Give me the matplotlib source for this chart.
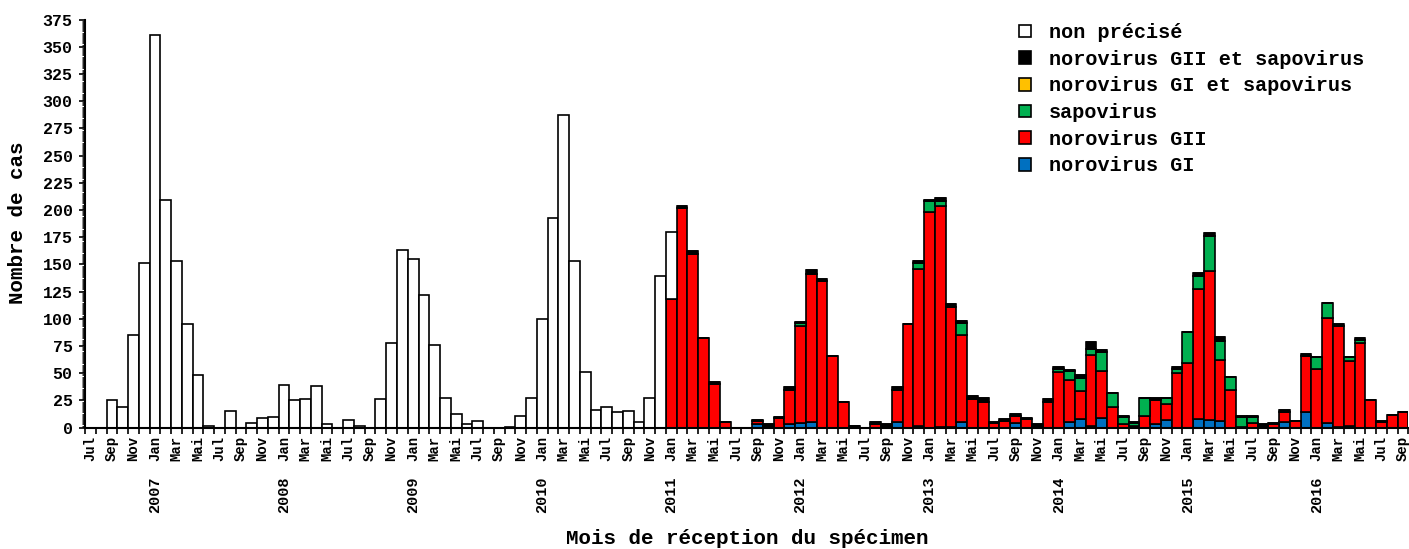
import matplotlib
matplotlib.use('Agg')
import matplotlib.pyplot as plt
from matplotlib.ticker import MultipleLocator

# Monthly counts, Jul 2006 -> Sep 2016 (one row per year)
non_precise = [0, 0, 25, 19, 85, 151,
               361, 209, 153, 95, 48, 2, 0, 15, 0, 4, 9, 10,
               39, 25, 26, 38, 3, 0, 7, 2, 0, 26, 78, 163,
               155, 122, 76, 27, 13, 3, 6, 0, 0, 1, 11, 27,
               100, 193, 287, 153, 51, 16, 19, 14, 15, 5, 27, 139,
               62, 0, 0, 0, 0, 0, 0, 0, 0, 0, 0, 0,
               0, 0, 0, 0, 0, 0, 0, 0, 0, 0, 0, 0,
               0, 0, 0, 0, 0, 0, 0, 0, 0, 0, 0, 0,
               0, 0, 0, 0, 0, 0, 0, 0, 0, 0, 0, 0,
               0, 0, 0, 0, 0, 0, 0, 0, 0, 0, 0, 0,
               0, 0, 0, 0, 0, 0, 0, 0, 0]

noro_gi = [0, 0, 0, 0, 0, 0,
           0, 0, 0, 0, 0, 0, 0, 0, 0, 0, 0, 0,
           0, 0, 0, 0, 0, 0, 0, 0, 0, 0, 0, 0,
           0, 0, 0, 0, 0, 0, 0, 0, 0, 0, 0, 0,
           0, 0, 0, 0, 0, 0, 0, 0, 0, 0, 0, 0,
           0, 0, 0, 0, 0, 0, 0, 0, 3, 0, 0, 3,
           4, 5, 0, 0, 0, 0, 0, 0, 0, 5, 0, 2,
           0, 1, 1, 5, 0, 0, 0, 0, 4, 0, 0, 0,
           0, 5, 8, 2, 9, 0, 0, 0, 0, 3, 7, 0,
           0, 8, 7, 6, 0, 0, 0, 0, 0, 5, 0, 14,
           0, 4, 1, 2, 0, 0, 0, 0, 0]

noro_gii = [0, 0, 0, 0, 0, 0,
            0, 0, 0, 0, 0, 0, 0, 0, 0, 0, 0, 0,
            0, 0, 0, 0, 0, 0, 0, 0, 0, 0, 0, 0,
            0, 0, 0, 0, 0, 0, 0, 0, 0, 0, 0, 0,
            0, 0, 0, 0, 0, 0, 0, 0, 0, 0, 0, 0,
            118, 202, 160, 82, 40, 5, 0, 0, 3, 2, 9, 32,
            89, 136, 135, 66, 24, 2, 0, 3, 1, 30, 95, 144,
            198, 203, 110, 80, 26, 24, 4, 6, 7, 8, 2, 24,
            51, 39, 26, 65, 43, 19, 3, 2, 11, 22, 15, 50,
            59, 119, 137, 56, 35, 1, 4, 2, 3, 9, 6, 52,
            54, 97, 92, 59, 78, 25, 5, 12, 14]

sapovirus = [0, 0, 0, 0, 0, 0,
             0, 0, 0, 0, 0, 0, 0, 0, 0, 0, 0, 0,
             0, 0, 0, 0, 0, 0, 0, 0, 0, 0, 0, 0,
             0, 0, 0, 0, 0, 0, 0, 0, 0, 0, 0, 0,
             0, 0, 0, 0, 0, 0, 0, 0, 0, 0, 0, 0,
             0, 0, 0, 0, 0, 0, 0, 0, 0, 0, 0, 0,
             3, 0, 0, 0, 0, 0, 0, 0, 0, 0, 0, 5,
             10, 4, 0, 11, 0, 0, 0, 0, 0, 0, 0, 0,
             3, 8, 12, 5, 18, 13, 7, 2, 16, 0, 5, 4,
             29, 12, 32, 18, 12, 9, 6, 0, 0, 0, 0, 0,
             11, 14, 0, 4, 3, 0, 0, 0, 0]

gi_sapo = [0] * 123

gii_sapo = [0, 0, 0, 0, 0, 0,
            0, 0, 0, 0, 0, 0, 0, 0, 0, 0, 0, 0,
            0, 0, 0, 0, 0, 0, 0, 0, 0, 0, 0, 0,
            0, 0, 0, 0, 0, 0, 0, 0, 0, 0, 0, 0,
            0, 0, 0, 0, 0, 0, 0, 0, 0, 0, 0, 0,
            0, 2, 2, 0, 2, 0, 0, 0, 1, 1, 1, 2,
            1, 4, 2, 0, 0, 0, 0, 2, 2, 2, 0, 2,
            1, 3, 3, 2, 3, 3, 1, 2, 2, 1, 1, 2,
            2, 1, 2, 7, 1, 0, 1, 1, 0, 2, 0, 2,
            0, 3, 3, 3, 0, 1, 1, 1, 1, 2, 0, 2,
            0, 0, 2, 0, 1, 0, 1, 0, 0]

month_names = ['Jan', 'Fév', 'Mar', 'Avr', 'Mai', 'Jun',
               'Jul', 'Aoû', 'Sep', 'Oct', 'Nov', 'Déc']
start_month = 6   # Jul
start_year = 2006

# Stacking order (bottom -> top) and legend labels
series = [noro_gi, noro_gii, sapovirus, gi_sapo, gii_sapo, non_precise]
labels = ['norovirus GI', 'norovirus GII', 'sapovirus',
          'norovirus GI et sapovirus', 'norovirus GII et sapovirus', 'non précisé']
colors = ['#0070C0', '#FF0000', '#00B050', '#FFC000', '#000000', '#FFFFFF']

plt.rcParams['font.family'] = ['Liberation Mono', 'DejaVu Sans Mono']
plt.rcParams['font.weight'] = 'bold'

n = len(non_precise)
x = list(range(n))

fig = plt.figure(figsize=(14.09, 5.49), dpi=100)
ax = fig.add_axes([85 / 1409, 1 - 427.7 / 549, 1 - 85 / 1409 - 0.0005, (427.7 - 19.5) / 549])

bottom = [0] * n
handles = []
for vals, lab, col in zip(series, labels, colors):
    b = ax.bar(x, vals, width=1.0, bottom=bottom, align='edge', color=col,
               edgecolor='black', linewidth=1.2, label=lab)
    handles.append(b)
    bottom = [b0 + v for b0, v in zip(bottom, vals)]

ax.set_xlim(0, n)
ax.set_ylim(0, 375)

# y axis
ax.yaxis.set_major_locator(MultipleLocator(25))
ax.yaxis.set_minor_locator(MultipleLocator(1))
ax.tick_params(axis='y', which='major', direction='out', length=4, width=1.2,
               labelsize=12, pad=5)
ax.tick_params(axis='y', which='minor', direction='out', length=2, width=0.6)

# x axis: ticks at month boundaries, labels every other month
ax.set_xticks(range(n + 1))
ax.set_xticklabels([])
ax.tick_params(axis='x', which='major', direction='out', length=4, width=1.2)
lab_pos = [i + 0.5 for i in range(0, n, 2)]
lab_txt = [month_names[(start_month + i) % 12] for i in range(0, n, 2)]
ax.set_xticks(lab_pos, minor=True)
ax.set_xticklabels(lab_txt, minor=True, rotation=90, fontsize=10)
ax.tick_params(axis='x', which='minor', length=0, pad=6)

# year labels under January
for i in range(n):
    if (start_month + i) % 12 == 0:
        year = start_year + (start_month + i) // 12
        ax.annotate(str(year), xy=(i + 0.5, 0), xycoords='data',
                    xytext=(0, -67), textcoords='offset pixels',
                    rotation=90, ha='center', va='center', fontsize=11)

for s in ['top', 'right']:
    ax.spines[s].set_visible(False)
ax.spines['left'].set_linewidth(1.5)
ax.spines['bottom'].set_linewidth(1.5)

fig.text(747 / 1409, 1 - 538 / 549, 'Mois de réception du spécimen',
         ha='center', va='center', fontsize=15)
fig.text(18 / 1409, 1 - 223 / 549, 'Nombre de cas', rotation=90,
         ha='center', va='center', fontsize=15)

# Legend (top entry = top of stack)
fig.legend(handles[::-1], labels[::-1], loc='upper left',
           bbox_to_anchor=(1011 / 1409, 1 - 15 / 549), frameon=False,
           fontsize=14.5, handlelength=0.6, handleheight=0.6,
           handletextpad=0.9, labelspacing=0.38, borderaxespad=0)

fig.savefig('out.png', dpi=100)
